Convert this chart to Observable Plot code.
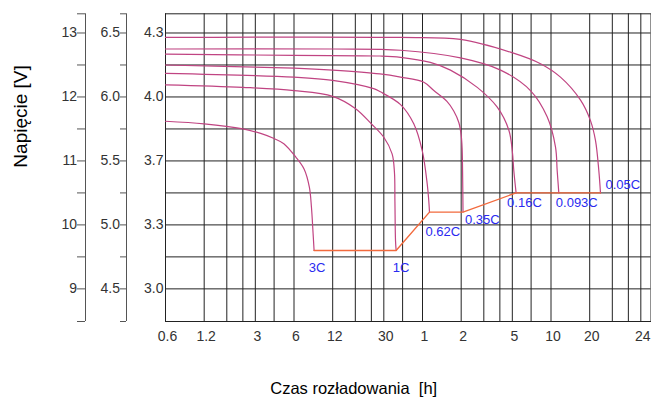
<!DOCTYPE html>
<html>
<head>
<meta charset="utf-8">
<script src="https://cdn.jsdelivr.net/npm/d3@7"></script>
<script src="https://cdn.jsdelivr.net/npm/@observablehq/plot@0.6"></script>
<style>
  html, body { margin: 0; padding: 0; background: #fff; }
  svg text { white-space: pre; }
</style>
</head>
<body>
<div id="chart"></div>
<script>
// ---- data (time in minutes, voltage on the 12 V scale) ----
const xGrid = [0.6, 1.2, 1.8, 2.4, 3, 4.2, 6, 12, 18, 24, 30, 42, 60, 120, 180, 240, 300, 420, 600, 1200, 1800, 2400, 3000];
const xTicks = [0.6, 1.2, 3, 6, 12, 30, 60, 120, 300, 600, 1200, 3000];
const xTickLabels = ["0.6", "1.2", "3", "6", "12", "30", "1", "2", "5", "10", "20", "24"];
const xDomain = [0.6, 3600];
const yDomain = [8.49, 13.30];
const yGrid = [9, 9.5, 10, 10.5, 11, 11.5, 12, 12.5, 13];
const yTicks = [9, 10, 11, 12, 13];
const yMinor = [9.5, 10.5, 11.5, 12.5];
const yLabels12 = ["9", "10", "11", "12", "13"];
const yLabels6 = ["4.5", "5.0", "5.5", "6.0", "6.5"];
const yLabelsCell = ["3.0", "3.3", "3.7", "4.0", "4.3"];

const rates = ["3C", "1C", "0.62C", "0.35C", "0.16C", "0.093C", "0.05C"];
const c3C = [[0.6,11.62],[1.2,11.58],[2.4,11.50],[3.3,11.43],[4.2,11.35],[5.0,11.27],[6.2,11.06],[7.2,10.87],[7.9,10.59],[8.2,10.28],[8.45,9.86],[8.6,9.6]];
const c1C = [[0.6,12.19],[2.4,12.15],[6,12.10],[12,12.01],[18,11.82],[24,11.58],[30,11.37],[34.8,11.11],[36.3,10.82],[36.6,10.37],[37,9.75],[37.4,9.6]];
const c062C = [[0.6,12.37],[6,12.31],[12,12.26],[25,12.13],[28.2,12.08],[40.5,11.88],[51.3,11.58],[59.7,11.16],[65.3,10.64],[67,10.4],[68,10.2]];
const c035C = [[0.6,12.50],[6,12.45],[12,12.42],[28,12.36],[40.5,12.31],[61.5,12.23],[73.5,12.1],[93,11.93],[105,11.78],[115,11.6],[120,11.4],[122,11.2],[123,10.85],[124,10.2]];
const c016C = [[0.6,12.67],[6,12.65],[28,12.64],[40.5,12.62],[69,12.54],[99,12.42],[160,12.15],[229,11.84],[282,11.48],[300,11.15],[308,10.85],[321,10.5]];
const c0093C = [[0.6,12.75],[12,12.75],[40.5,12.73],[118.6,12.61],[243,12.42],[415,12.10],[560,11.69],[650,11.22],[670,10.85],[690,10.5]];
const c005C = [[0.6,12.93],[40.5,12.93],[118.6,12.90],[290,12.70],[497,12.52],[711,12.31],[1019,11.95],[1217,11.63],[1331,11.32],[1413,10.85],[1456,10.5]];
const curves = [c3C, c1C, c062C, c035C, c016C, c0093C, c005C];

// ---- tables built from the arrays ----
const rows = curves.flatMap((c, i) => c.map(([t, v]) => ({rate: rates[i], t, v})));
const ends = curves.map((c, i) => ({rate: rates[i], t: c[c.length - 1][0], v: c[c.length - 1][1]}));
const xLabelRows = xTicks.map((t, i) => ({t, label: xTickLabels[i]}));

// label placement (styling only)
const labelOpts = {
  "3C":     {dx: 3,  dy: 17, textAnchor: "middle"},
  "1C":     {dx: 5,  dy: 17, textAnchor: "middle"},
  "0.62C":  {dx: -4, dy: 20, textAnchor: "start"},
  "0.35C":  {dx: 2,  dy: 8,  textAnchor: "start"},
  "0.16C":  {dx: -9, dy: 10, textAnchor: "start"},
  "0.093C": {dx: -3, dy: 10, textAnchor: "start"},
  "0.05C":  {dx: 5,  dy: -8, textAnchor: "start"}
};

const gridColor = "#222";
const axisColor = "#555";
const textColor = "#333";
const blank = () => "";

const plot = Plot.plot({
  width: 651,
  height: 401,
  marginLeft: 165,
  marginRight: 0.5,
  marginTop: 13.3,
  marginBottom: 80,
  x: {type: "log", domain: xDomain, axis: null},
  y: {domain: yDomain, axis: null},
  style: {fontFamily: "'Liberation Sans', Arial, sans-serif", fontSize: "14px", background: "#fff", color: textColor},
  marks: [
    Plot.ruleX(xGrid, {stroke: gridColor, strokeWidth: 1}),
    Plot.ruleY(yGrid, {stroke: gridColor, strokeWidth: 1}),
    Plot.frame({stroke: gridColor}),
    Plot.line(rows, {x: "t", y: "v", z: "rate", stroke: "#c04482", strokeWidth: 1.2, curve: "catmull-rom"}),
    Plot.line(ends, {x: "t", y: "v", stroke: "#f26a3d", strokeWidth: 1.4}),
    ...ends.map(e => Plot.text([e], {x: "t", y: "v", text: "rate", fill: "#2a2af0", fontSize: 13, lineAnchor: "middle", ...labelOpts[e.rate]})),
    // 12 V axis
    Plot.ruleX([xDomain[0]], {y1: yDomain[0], y2: yDomain[1], dx: -80, stroke: axisColor}),
    Plot.axisY([...yMinor, ...yDomain], {anchor: "left", dx: -80, tickSize: 8, stroke: axisColor, tickFormat: blank, label: null}),
    Plot.axisY(yTicks, {anchor: "left", dx: -80, tickSize: 8, tickPadding: 0.5, stroke: axisColor, fill: textColor, fontSize: 14, label: null,
      tickFormat: d => yLabels12[yTicks.indexOf(d)]}),
    // 6 V axis
    Plot.ruleX([xDomain[0]], {y1: yDomain[0], y2: yDomain[1], dx: -39, stroke: axisColor}),
    Plot.axisY([...yMinor, ...yDomain], {anchor: "left", dx: -39, tickSize: 6, stroke: axisColor, tickFormat: blank, label: null}),
    Plot.axisY(yTicks, {anchor: "left", dx: -39, tickSize: 6, tickPadding: 0.5, stroke: axisColor, fill: textColor, fontSize: 14, label: null,
      tickFormat: d => yLabels6[yTicks.indexOf(d)]}),
    // cell axis
    Plot.axisY(yTicks, {anchor: "left", tickSize: 0, tickPadding: 2, fill: textColor, fontSize: 14, label: null,
      tickFormat: d => yLabelsCell[yTicks.indexOf(d)]}),
    // x tick labels
    Plot.text(xLabelRows, {x: "t", text: "label", frameAnchor: "bottom", dx: 2, dy: 15, lineAnchor: "middle", fill: textColor, fontSize: 14}),
    // titles
    Plot.text(["Napięcie [V]"], {frameAnchor: "left", rotate: -90, dx: -145, fontSize: 19, fill: "#000", lineAnchor: "middle"}),
    Plot.text(["Czas rozładowania  [h]"], {frameAnchor: "bottom", dx: -138, dy: 67, textAnchor: "start", fontSize: 16.5, fill: "#000", lineAnchor: "middle"})
  ]
});
document.getElementById("chart").appendChild(plot);
</script>
</body>
</html>
